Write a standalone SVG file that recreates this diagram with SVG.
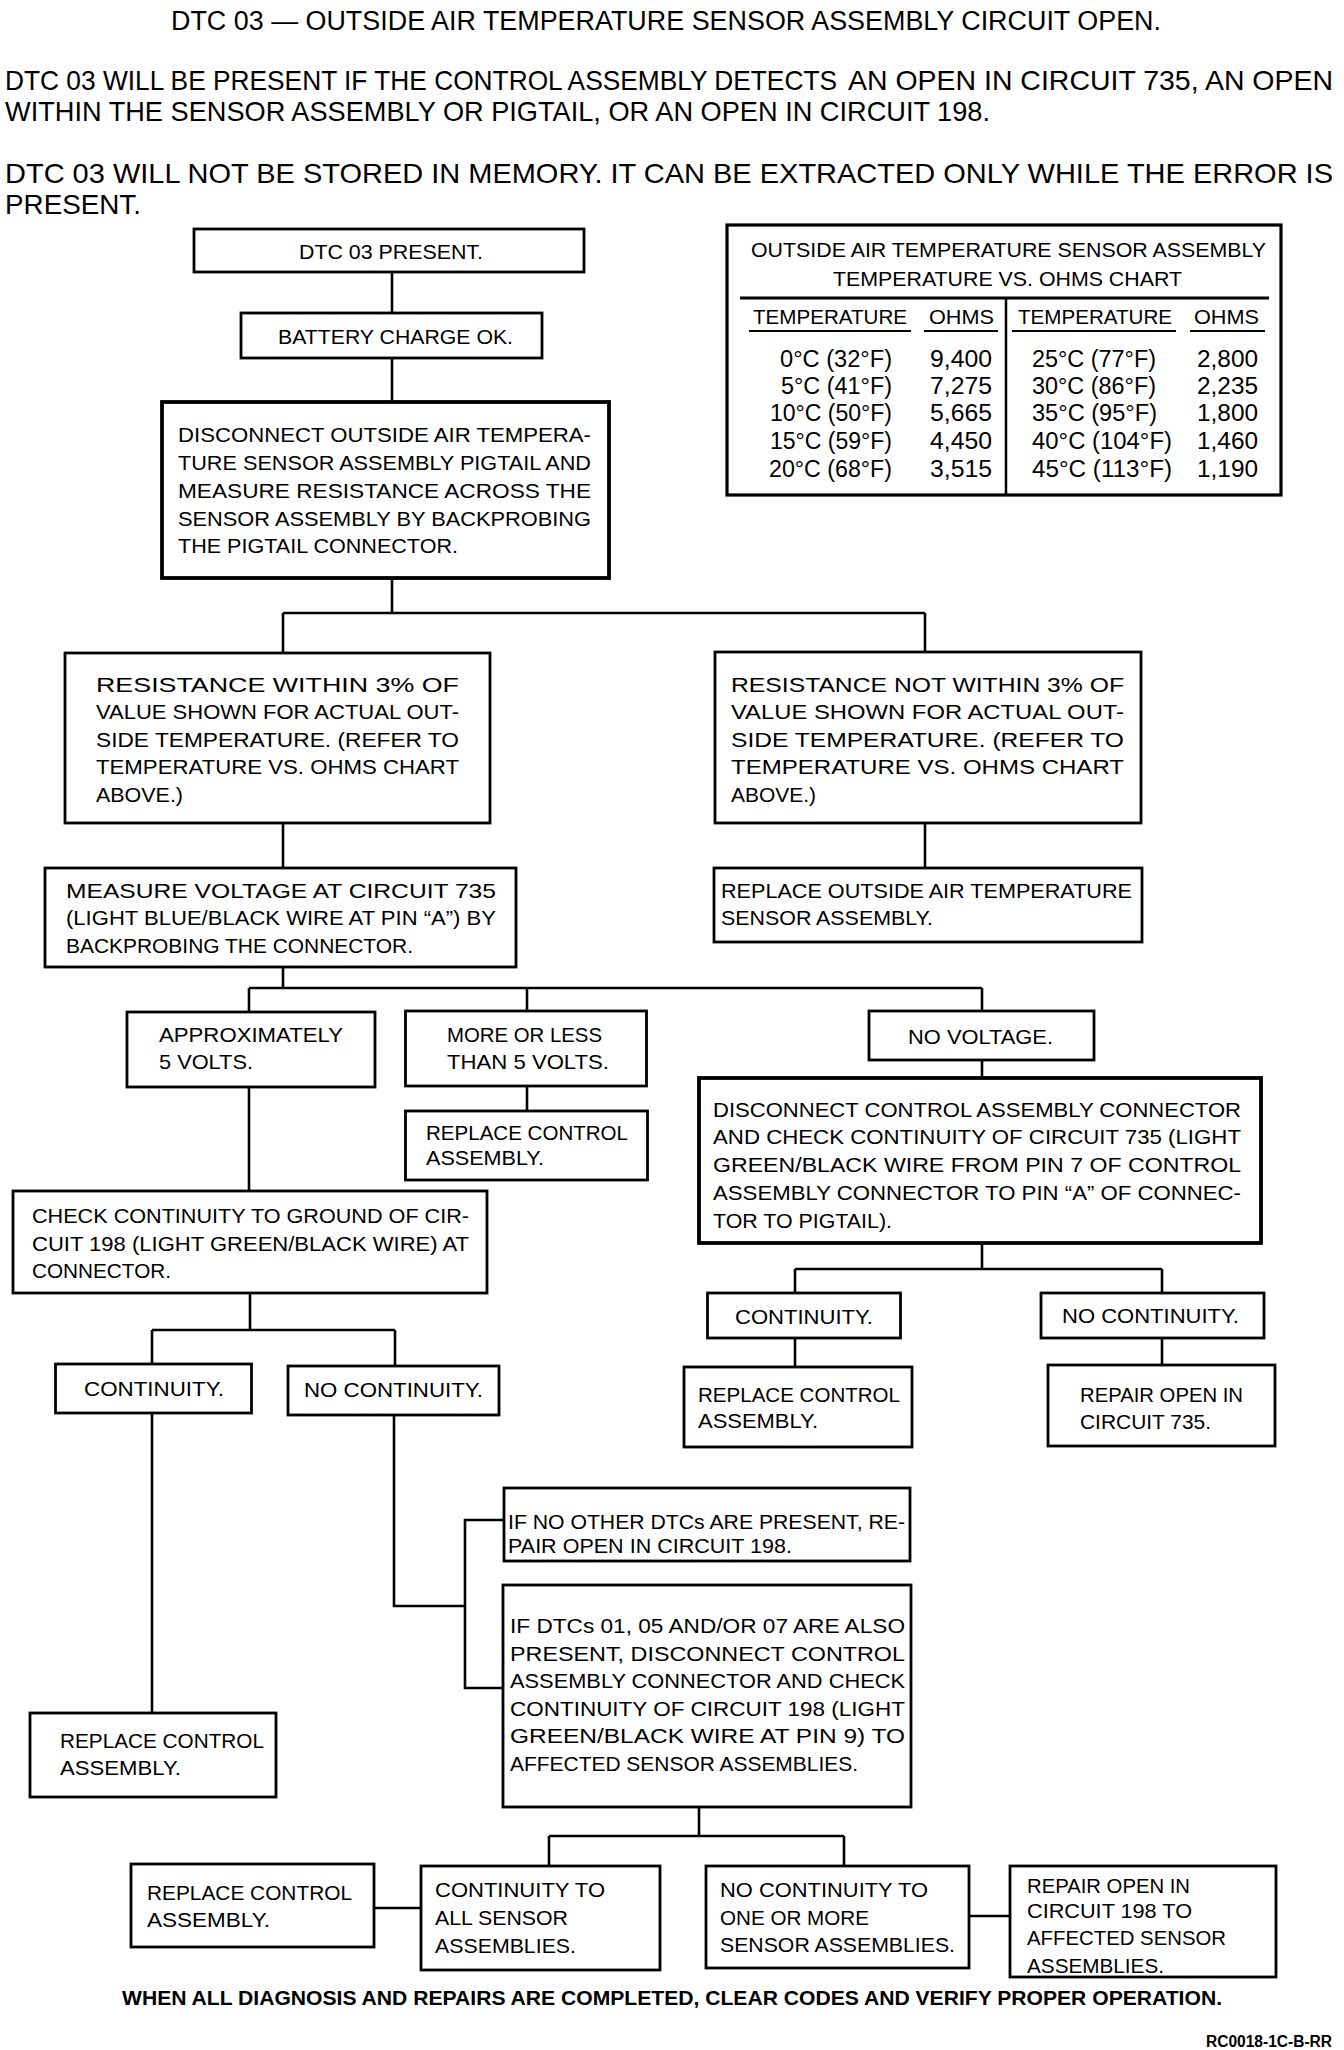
<svg xmlns="http://www.w3.org/2000/svg" width="1344" height="2050" viewBox="0 0 1344 2050">
<style>
.bx{fill:#fff;stroke:#000;stroke-width:2.8}
.tk{stroke-width:3.8}
.cn line,.cn polyline{stroke:#000;stroke-width:2.6;fill:none}
text{font-family:"Liberation Sans",Arial,sans-serif;fill:#000}
.h{font-size:28px}
.ti{font-size:27px}
.t{font-size:21px}
.s{font-size:20px}
.r{font-size:23px}
.bd{font-size:21px;font-weight:bold}
.ul{stroke:#000;stroke-width:2}
</style>
<rect width="1344" height="2050" fill="#fff"/>
<g id="header">
<text class="ti" x="171" y="30" textLength="990" lengthAdjust="spacingAndGlyphs">DTC 03 — OUTSIDE AIR TEMPERATURE SENSOR ASSEMBLY CIRCUIT OPEN.</text>
<text class="h" x="5" y="90" textLength="832" lengthAdjust="spacingAndGlyphs">DTC 03 WILL BE PRESENT IF THE CONTROL ASSEMBLY DETECTS</text>
<text class="h" x="848" y="90" textLength="485" lengthAdjust="spacingAndGlyphs">AN OPEN IN CIRCUIT 735, AN OPEN</text>
<text class="h" x="5" y="121" textLength="985" lengthAdjust="spacingAndGlyphs">WITHIN THE SENSOR ASSEMBLY OR PIGTAIL, OR AN OPEN IN CIRCUIT 198.</text>
<text class="h" x="5" y="183" textLength="1328" lengthAdjust="spacingAndGlyphs">DTC 03 WILL NOT BE STORED IN MEMORY. IT CAN BE EXTRACTED ONLY WHILE THE ERROR IS</text>
<text class="h" x="5" y="214" textLength="136" lengthAdjust="spacingAndGlyphs">PRESENT.</text>
</g>
<g id="chart">
<rect class="bx" x="727" y="225" width="554" height="270" style="stroke-width:3.2"/>
<text class="t" x="751" y="257" textLength="515" lengthAdjust="spacingAndGlyphs">OUTSIDE AIR TEMPERATURE SENSOR ASSEMBLY</text>
<text class="t" x="833" y="286" textLength="349" lengthAdjust="spacingAndGlyphs">TEMPERATURE VS. OHMS CHART</text>
<line x1="740" y1="298" x2="1269" y2="298" stroke="#000" stroke-width="3"/>
<line x1="1006" y1="298" x2="1006" y2="495" stroke="#000" stroke-width="2.5"/>
<text class="t" x="753" y="324" textLength="154" lengthAdjust="spacingAndGlyphs">TEMPERATURE</text>
<text class="t" x="929" y="324" textLength="65" lengthAdjust="spacingAndGlyphs">OHMS</text>
<text class="t" x="1018" y="324" textLength="154" lengthAdjust="spacingAndGlyphs">TEMPERATURE</text>
<text class="t" x="1194" y="324" textLength="65" lengthAdjust="spacingAndGlyphs">OHMS</text>
<line class="ul" x1="749" y1="331" x2="911" y2="331"/>
<line class="ul" x1="924" y1="331" x2="998" y2="331"/>
<line class="ul" x1="1012" y1="331" x2="1176" y2="331"/>
<line class="ul" x1="1190" y1="331" x2="1265" y2="331"/>
<text class="r" x="780" y="367" textLength="112" lengthAdjust="spacingAndGlyphs">0°C (32°F)</text>
<text class="r" x="781" y="394" textLength="111" lengthAdjust="spacingAndGlyphs">5°C (41°F)</text>
<text class="r" x="770" y="421" textLength="122" lengthAdjust="spacingAndGlyphs">10°C (50°F)</text>
<text class="r" x="770" y="449" textLength="122" lengthAdjust="spacingAndGlyphs">15°C (59°F)</text>
<text class="r" x="769" y="477" textLength="123" lengthAdjust="spacingAndGlyphs">20°C (68°F)</text>
<text class="r" x="930" y="367" textLength="62" lengthAdjust="spacingAndGlyphs">9,400</text>
<text class="r" x="930" y="394" textLength="62" lengthAdjust="spacingAndGlyphs">7,275</text>
<text class="r" x="930" y="421" textLength="62" lengthAdjust="spacingAndGlyphs">5,665</text>
<text class="r" x="930" y="449" textLength="62" lengthAdjust="spacingAndGlyphs">4,450</text>
<text class="r" x="930" y="477" textLength="62" lengthAdjust="spacingAndGlyphs">3,515</text>
<text class="r" x="1032" y="367" textLength="124" lengthAdjust="spacingAndGlyphs">25°C (77°F)</text>
<text class="r" x="1032" y="394" textLength="124" lengthAdjust="spacingAndGlyphs">30°C (86°F)</text>
<text class="r" x="1032" y="421" textLength="125" lengthAdjust="spacingAndGlyphs">35°C (95°F)</text>
<text class="r" x="1032" y="449" textLength="140" lengthAdjust="spacingAndGlyphs">40°C (104°F)</text>
<text class="r" x="1032" y="477" textLength="140" lengthAdjust="spacingAndGlyphs">45°C (113°F)</text>
<text class="r" x="1197" y="367" textLength="61" lengthAdjust="spacingAndGlyphs">2,800</text>
<text class="r" x="1197" y="394" textLength="61" lengthAdjust="spacingAndGlyphs">2,235</text>
<text class="r" x="1197" y="421" textLength="61" lengthAdjust="spacingAndGlyphs">1,800</text>
<text class="r" x="1197" y="449" textLength="61" lengthAdjust="spacingAndGlyphs">1,460</text>
<text class="r" x="1197" y="477" textLength="61" lengthAdjust="spacingAndGlyphs">1,190</text>
</g>
<g id="connectors" class="cn">
<line x1="392" y1="272" x2="392" y2="313"/>
<line x1="392" y1="358" x2="392" y2="402"/>
<line x1="392" y1="578" x2="392" y2="613"/>
<line x1="283" y1="613" x2="925" y2="613"/>
<line x1="283" y1="613" x2="283" y2="653"/>
<line x1="925" y1="613" x2="925" y2="652"/>
<line x1="283" y1="823" x2="283" y2="868"/>
<line x1="925" y1="823" x2="925" y2="868"/>
<line x1="283" y1="967" x2="283" y2="988"/>
<line x1="249" y1="988" x2="982" y2="988"/>
<line x1="249" y1="988" x2="249" y2="1012"/>
<line x1="527" y1="988" x2="527" y2="1011"/>
<line x1="982" y1="988" x2="982" y2="1011"/>
<line x1="527" y1="1086" x2="527" y2="1111"/>
<line x1="249" y1="1087" x2="249" y2="1191"/>
<line x1="982" y1="1060" x2="982" y2="1078"/>
<line x1="982" y1="1243" x2="982" y2="1269"/>
<line x1="795" y1="1269" x2="1162" y2="1269"/>
<line x1="795" y1="1269" x2="795" y2="1293"/>
<line x1="1162" y1="1269" x2="1162" y2="1293"/>
<line x1="795" y1="1338" x2="795" y2="1367"/>
<line x1="1162" y1="1338" x2="1162" y2="1365"/>
<line x1="250" y1="1293" x2="250" y2="1330"/>
<line x1="152" y1="1330" x2="395" y2="1330"/>
<line x1="152" y1="1330" x2="152" y2="1364"/>
<line x1="395" y1="1330" x2="395" y2="1366"/>
<line x1="152" y1="1413" x2="152" y2="1713"/>
<polyline points="394,1415 394,1606 465,1606"/>
<polyline points="504,1520 465,1520 465,1688 503,1688"/>
<line x1="699" y1="1807" x2="699" y2="1836"/>
<line x1="549" y1="1836" x2="844" y2="1836"/>
<line x1="549" y1="1836" x2="549" y2="1866"/>
<line x1="844" y1="1836" x2="844" y2="1866"/>
<line x1="374" y1="1908" x2="421" y2="1908"/>
<line x1="969" y1="1916" x2="1010" y2="1916"/>
</g>
<g id="n-dtc03">
<rect class="bx" x="194" y="229" width="390" height="43"/>
<text class="t" x="299" y="259" textLength="184" lengthAdjust="spacingAndGlyphs">DTC 03 PRESENT.</text>
</g>
<g id="n-battery">
<rect class="bx" x="241" y="313" width="301" height="45"/>
<text class="t" x="278" y="344" textLength="235" lengthAdjust="spacingAndGlyphs">BATTERY CHARGE OK.</text>
</g>
<g id="n-disconnect-pigtail">
<rect class="bx tk" x="162" y="402" width="447" height="176"/>
<text class="t" x="178" y="442" textLength="413" lengthAdjust="spacingAndGlyphs">DISCONNECT OUTSIDE AIR TEMPERA-</text>
<text class="t" x="178" y="470" textLength="413" lengthAdjust="spacingAndGlyphs">TURE SENSOR ASSEMBLY PIGTAIL AND</text>
<text class="t" x="178" y="498" textLength="413" lengthAdjust="spacingAndGlyphs">MEASURE RESISTANCE ACROSS THE</text>
<text class="t" x="178" y="526" textLength="413" lengthAdjust="spacingAndGlyphs">SENSOR ASSEMBLY BY BACKPROBING</text>
<text class="t" x="178" y="553" textLength="280" lengthAdjust="spacingAndGlyphs">THE PIGTAIL CONNECTOR.</text>
</g>
<g id="n-res-within">
<rect class="bx" x="65" y="653" width="425" height="170"/>
<text class="t" x="96" y="692" textLength="363" lengthAdjust="spacingAndGlyphs">RESISTANCE WITHIN 3% OF</text>
<text class="t" x="96" y="719" textLength="363" lengthAdjust="spacingAndGlyphs">VALUE SHOWN FOR ACTUAL OUT-</text>
<text class="t" x="96" y="747" textLength="363" lengthAdjust="spacingAndGlyphs">SIDE TEMPERATURE. (REFER TO</text>
<text class="t" x="96" y="774" textLength="363" lengthAdjust="spacingAndGlyphs">TEMPERATURE VS. OHMS CHART</text>
<text class="t" x="96" y="802" textLength="87" lengthAdjust="spacingAndGlyphs">ABOVE.)</text>
</g>
<g id="n-res-not-within">
<rect class="bx" x="715" y="652" width="426" height="171"/>
<text class="t" x="731" y="692" textLength="393" lengthAdjust="spacingAndGlyphs">RESISTANCE NOT WITHIN 3% OF</text>
<text class="t" x="731" y="719" textLength="393" lengthAdjust="spacingAndGlyphs">VALUE SHOWN FOR ACTUAL OUT-</text>
<text class="t" x="731" y="747" textLength="393" lengthAdjust="spacingAndGlyphs">SIDE TEMPERATURE. (REFER TO</text>
<text class="t" x="731" y="774" textLength="393" lengthAdjust="spacingAndGlyphs">TEMPERATURE VS. OHMS CHART</text>
<text class="t" x="731" y="802" textLength="85" lengthAdjust="spacingAndGlyphs">ABOVE.)</text>
</g>
<g id="n-replace-sensor">
<rect class="bx" x="714" y="868" width="428" height="74"/>
<text class="t" x="721" y="898" textLength="411" lengthAdjust="spacingAndGlyphs">REPLACE OUTSIDE AIR TEMPERATURE</text>
<text class="t" x="721" y="925" textLength="212" lengthAdjust="spacingAndGlyphs">SENSOR ASSEMBLY.</text>
</g>
<g id="n-measure-voltage">
<rect class="bx" x="45" y="868" width="471" height="99"/>
<text class="t" x="66" y="898" textLength="430" lengthAdjust="spacingAndGlyphs">MEASURE VOLTAGE AT CIRCUIT 735</text>
<text class="t" x="66" y="925" textLength="430" lengthAdjust="spacingAndGlyphs">(LIGHT BLUE/BLACK WIRE AT PIN “A”) BY</text>
<text class="t" x="66" y="953" textLength="347" lengthAdjust="spacingAndGlyphs">BACKPROBING THE CONNECTOR.</text>
</g>
<g id="n-approx-5v">
<rect class="bx" x="127" y="1012" width="248" height="75"/>
<text class="t" x="159" y="1042" textLength="184" lengthAdjust="spacingAndGlyphs">APPROXIMATELY</text>
<text class="t" x="159" y="1069" textLength="94" lengthAdjust="spacingAndGlyphs">5 VOLTS.</text>
</g>
<g id="n-more-less">
<rect class="bx" x="405.5" y="1011" width="241" height="75"/>
<text class="t" x="447" y="1042" textLength="155" lengthAdjust="spacingAndGlyphs">MORE OR LESS</text>
<text class="t" x="447" y="1069" textLength="162" lengthAdjust="spacingAndGlyphs">THAN 5 VOLTS.</text>
</g>
<g id="n-replace-control-1">
<rect class="bx" x="405.5" y="1111" width="242" height="69"/>
<text class="t" x="426" y="1140" textLength="202" lengthAdjust="spacingAndGlyphs">REPLACE CONTROL</text>
<text class="t" x="426" y="1165" textLength="118" lengthAdjust="spacingAndGlyphs">ASSEMBLY.</text>
</g>
<g id="n-no-voltage">
<rect class="bx" x="869" y="1011" width="225" height="49"/>
<text class="t" x="908" y="1044" textLength="145" lengthAdjust="spacingAndGlyphs">NO VOLTAGE.</text>
</g>
<g id="n-disconnect-control">
<rect class="bx tk" x="699" y="1078" width="562" height="165"/>
<text class="t" x="713" y="1117" textLength="528" lengthAdjust="spacingAndGlyphs">DISCONNECT CONTROL ASSEMBLY CONNECTOR</text>
<text class="t" x="713" y="1144" textLength="528" lengthAdjust="spacingAndGlyphs">AND CHECK CONTINUITY OF CIRCUIT 735 (LIGHT</text>
<text class="t" x="713" y="1172" textLength="528" lengthAdjust="spacingAndGlyphs">GREEN/BLACK WIRE FROM PIN 7 OF CONTROL</text>
<text class="t" x="713" y="1200" textLength="528" lengthAdjust="spacingAndGlyphs">ASSEMBLY CONNECTOR TO PIN “A” OF CONNEC-</text>
<text class="t" x="713" y="1228" textLength="179" lengthAdjust="spacingAndGlyphs">TOR TO PIGTAIL).</text>
</g>
<g id="n-continuity-735">
<rect class="bx" x="707.5" y="1293" width="193" height="45"/>
<text class="t" x="735" y="1324" textLength="138" lengthAdjust="spacingAndGlyphs">CONTINUITY.</text>
</g>
<g id="n-no-continuity-735">
<rect class="bx" x="1041" y="1293" width="223" height="45"/>
<text class="t" x="1062" y="1323" textLength="177" lengthAdjust="spacingAndGlyphs">NO CONTINUITY.</text>
</g>
<g id="n-replace-control-2">
<rect class="bx" x="684" y="1367" width="228" height="80"/>
<text class="t" x="698" y="1402" textLength="202" lengthAdjust="spacingAndGlyphs">REPLACE CONTROL</text>
<text class="t" x="698" y="1428" textLength="120" lengthAdjust="spacingAndGlyphs">ASSEMBLY.</text>
</g>
<g id="n-repair-735">
<rect class="bx" x="1048" y="1365" width="227" height="81"/>
<text class="t" x="1080" y="1402" textLength="163" lengthAdjust="spacingAndGlyphs">REPAIR OPEN IN</text>
<text class="t" x="1080" y="1429" textLength="131" lengthAdjust="spacingAndGlyphs">CIRCUIT 735.</text>
</g>
<g id="n-check-198">
<rect class="bx" x="13" y="1191" width="474" height="102"/>
<text class="t" x="32" y="1223" textLength="437" lengthAdjust="spacingAndGlyphs">CHECK CONTINUITY TO GROUND OF CIR-</text>
<text class="t" x="32" y="1251" textLength="437" lengthAdjust="spacingAndGlyphs">CUIT 198 (LIGHT GREEN/BLACK WIRE) AT</text>
<text class="t" x="32" y="1278" textLength="139" lengthAdjust="spacingAndGlyphs">CONNECTOR.</text>
</g>
<g id="n-continuity-198">
<rect class="bx" x="55.5" y="1364" width="196" height="49"/>
<text class="t" x="84" y="1396" textLength="140" lengthAdjust="spacingAndGlyphs">CONTINUITY.</text>
</g>
<g id="n-no-continuity-198">
<rect class="bx" x="288" y="1366" width="211" height="49"/>
<text class="t" x="304" y="1397" textLength="179" lengthAdjust="spacingAndGlyphs">NO CONTINUITY.</text>
</g>
<g id="n-replace-control-3">
<rect class="bx" x="30" y="1713" width="246" height="84"/>
<text class="t" x="60" y="1748" textLength="204" lengthAdjust="spacingAndGlyphs">REPLACE CONTROL</text>
<text class="t" x="60" y="1775" textLength="121" lengthAdjust="spacingAndGlyphs">ASSEMBLY.</text>
</g>
<g id="n-no-other-dtcs">
<rect class="bx" x="504" y="1488" width="406" height="73"/>
<text class="s" x="508" y="1529" textLength="397" lengthAdjust="spacingAndGlyphs">IF NO OTHER DTCs ARE PRESENT, RE-</text>
<text class="s" x="508" y="1553" textLength="284" lengthAdjust="spacingAndGlyphs">PAIR OPEN IN CIRCUIT 198.</text>
</g>
<g id="n-dtcs-also">
<rect class="bx" x="503" y="1585" width="408" height="222"/>
<text class="s" x="510" y="1633" textLength="395" lengthAdjust="spacingAndGlyphs">IF DTCs 01, 05 AND/OR 07 ARE ALSO</text>
<text class="s" x="510" y="1661" textLength="395" lengthAdjust="spacingAndGlyphs">PRESENT, DISCONNECT CONTROL</text>
<text class="s" x="510" y="1688" textLength="395" lengthAdjust="spacingAndGlyphs">ASSEMBLY CONNECTOR AND CHECK</text>
<text class="s" x="510" y="1716" textLength="395" lengthAdjust="spacingAndGlyphs">CONTINUITY OF CIRCUIT 198 (LIGHT</text>
<text class="s" x="510" y="1743" textLength="395" lengthAdjust="spacingAndGlyphs">GREEN/BLACK WIRE AT PIN 9) TO</text>
<text class="s" x="510" y="1771" textLength="348" lengthAdjust="spacingAndGlyphs">AFFECTED SENSOR ASSEMBLIES.</text>
</g>
<g id="n-replace-control-4">
<rect class="bx" x="131" y="1864" width="243" height="83"/>
<text class="t" x="147" y="1900" textLength="205" lengthAdjust="spacingAndGlyphs">REPLACE CONTROL</text>
<text class="t" x="147" y="1927" textLength="123" lengthAdjust="spacingAndGlyphs">ASSEMBLY.</text>
</g>
<g id="n-continuity-all">
<rect class="bx" x="421" y="1866" width="239" height="104"/>
<text class="t" x="435" y="1897" textLength="170" lengthAdjust="spacingAndGlyphs">CONTINUITY TO</text>
<text class="t" x="435" y="1925" textLength="133" lengthAdjust="spacingAndGlyphs">ALL SENSOR</text>
<text class="t" x="435" y="1953" textLength="141" lengthAdjust="spacingAndGlyphs">ASSEMBLIES.</text>
</g>
<g id="n-no-continuity-some">
<rect class="bx" x="706" y="1866" width="263" height="102"/>
<text class="t" x="720" y="1897" textLength="208" lengthAdjust="spacingAndGlyphs">NO CONTINUITY TO</text>
<text class="t" x="720" y="1925" textLength="149" lengthAdjust="spacingAndGlyphs">ONE OR MORE</text>
<text class="t" x="720" y="1952" textLength="235" lengthAdjust="spacingAndGlyphs">SENSOR ASSEMBLIES.</text>
</g>
<g id="n-repair-198">
<rect class="bx" x="1010" y="1866" width="266" height="111"/>
<text class="t" x="1027" y="1893" textLength="163" lengthAdjust="spacingAndGlyphs">REPAIR OPEN IN</text>
<text class="t" x="1027" y="1918" textLength="165" lengthAdjust="spacingAndGlyphs">CIRCUIT 198 TO</text>
<text class="t" x="1027" y="1945" textLength="199" lengthAdjust="spacingAndGlyphs">AFFECTED SENSOR</text>
<text class="t" x="1027" y="1973" textLength="137" lengthAdjust="spacingAndGlyphs">ASSEMBLIES.</text>
</g>
<g id="footer">
<text class="bd" x="122" y="2005" textLength="1100" lengthAdjust="spacingAndGlyphs">WHEN ALL DIAGNOSIS AND REPAIRS ARE COMPLETED, CLEAR CODES AND VERIFY PROPER OPERATION.</text>
<text class="bd" x="1206" y="2047" style="font-size:16px" textLength="126" lengthAdjust="spacingAndGlyphs">RC0018-1C-B-RR</text>
</g>
</svg>
